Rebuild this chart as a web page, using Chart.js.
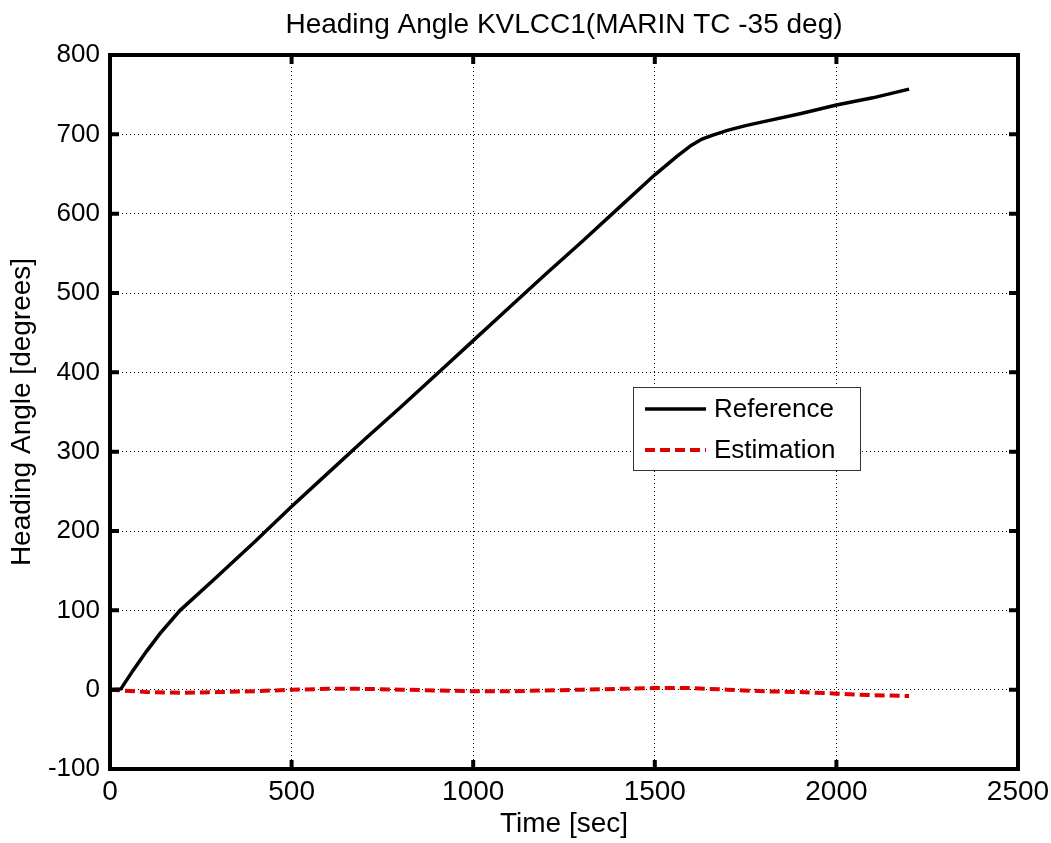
<!DOCTYPE html>
<html>
<head>
<meta charset="utf-8">
<script src="https://cdn.jsdelivr.net/npm/chart.js@4/dist/chart.umd.min.js"></script>
<style>
  body { margin: 0; background: #fff; }
  canvas { display: block; }
</style>
</head>
<body>
<canvas id="myChart" width="1051" height="843"></canvas>
<script>
// heading angle data
var refTime  = [0, 30, 63, 100, 138, 193, 284, 400, 500, 600, 700, 800, 900, 1000, 1100, 1200, 1300, 1400, 1500, 1560, 1600, 1630, 1660, 1700, 1750, 1800, 1900, 2000, 2100, 2200];
var refAngle = [0, 1, 24, 48, 71, 100, 138, 187, 231, 273, 315, 356, 398, 440, 482, 524, 565, 607, 649, 672, 686, 694, 699, 705, 711, 716, 726, 737, 746, 757];

var estTime  = [0, 100, 200, 300, 400, 500, 600, 700, 800, 900, 1000, 1100, 1200, 1300, 1400, 1500, 1600, 1700, 1800, 1900, 2000, 2100, 2200];
var estAngle = [0, -3, -4, -3, -2, 0, 1, 1, 0, -1, -2, -2, -1, 0, 1, 2, 2, 0, -2, -3, -5, -7, -8];

var xTicks = [0, 500, 1000, 1500, 2000, 2500];
var yTicks = [-100, 0, 100, 200, 300, 400, 500, 600, 700, 800];

var legendNames = ['Reference', 'Estimation'];
var chartTitle = 'Heading Angle KVLCC1(MARIN TC -35 deg)';

var FONT = "'Liberation Sans', Arial, sans-serif";

function toPoints(t, v) {
  var pts = [];
  for (var k = 0; k < t.length; k++) pts.push({ x: t[k], y: v[k] });
  return pts;
}

// frame, inward ticks, title and the boxed legend, matlab style
const matlabFrame = {
  id: 'matlabFrame',
  afterDatasetsDraw(chart) {
    const ctx = chart.ctx;
    const a = chart.chartArea;
    const xs = chart.scales.x, ys = chart.scales.y;
    ctx.save();

    ctx.fillStyle = '#000';
    ctx.font = '28px ' + FONT;
    ctx.textAlign = 'center';
    ctx.textBaseline = 'middle';
    ctx.fillText(chartTitle, (a.left + a.right) / 2, 25);

    ctx.strokeStyle = '#000';
    ctx.lineWidth = 4;
    ctx.strokeRect(a.left, a.top, a.right - a.left, a.bottom - a.top);

    xTicks.forEach(function (v) {
      var px = xs.getPixelForValue(v);
      ctx.beginPath();
      ctx.moveTo(px, a.bottom); ctx.lineTo(px, a.bottom - 9);
      ctx.moveTo(px, a.top); ctx.lineTo(px, a.top + 9);
      ctx.stroke();
    });
    yTicks.forEach(function (v) {
      var py = ys.getPixelForValue(v);
      ctx.beginPath();
      ctx.moveTo(a.left, py); ctx.lineTo(a.left + 9, py);
      ctx.moveTo(a.right, py); ctx.lineTo(a.right - 9, py);
      ctx.stroke();
    });

    // legend box
    var bx = 633, by = 387, bw = 227, bh = 83;
    ctx.fillStyle = '#fff';
    ctx.fillRect(bx, by, bw, bh);
    ctx.lineWidth = 1;
    ctx.strokeStyle = '#333';
    ctx.strokeRect(bx + 0.5, by + 0.5, bw, bh);

    var ds = chart.data.datasets;
    ctx.font = '26px ' + FONT;
    ctx.textBaseline = 'middle';
    ctx.textAlign = 'left';
    for (var k = 0; k < ds.length; k++) {
      var ly = by + 22 + k * 41;
      ctx.beginPath();
      ctx.strokeStyle = ds[k].borderColor;
      ctx.lineWidth = ds[k].borderWidth;
      ctx.setLineDash(ds[k].borderDash || []);
      ctx.moveTo(bx + 12, ly);
      ctx.lineTo(bx + 73, ly);
      ctx.stroke();
      ctx.setLineDash([]);
      ctx.fillStyle = '#000';
      ctx.fillText(legendNames[k], bx + 81, ly + 1);
    }
    ctx.restore();
  }
};

const data = {
  datasets: [{
    label: legendNames[0],
    data: toPoints(refTime, refAngle),
    borderColor: '#000000',
    borderWidth: 3.5,
    pointRadius: 0,
    tension: 0
  },
  {
    label: legendNames[1],
    data: toPoints(estTime, estAngle),
    borderColor: '#e00000',
    borderWidth: 4,
    borderDash: [10, 5],
    pointRadius: 0,
    tension: 0
  }]
};

const config = {
  type: 'line',
  data: data,
  options: {
    responsive: false,
    animation: false,
    layout: { padding: { left: 0, right: 33, top: 55, bottom: 0 } },
    scales: {
      x: {
        type: 'linear',
        min: 0,
        max: 2500,
        afterBuildTicks: function (s) { s.ticks = xTicks.map(function (v) { return { value: v }; }); },
        afterFit: function (s) { s.height = 74; s.paddingLeft = 0; s.paddingRight = 0; },
        grid: { color: '#000', lineWidth: 1, drawTicks: false },
        border: { display: false, dash: [1, 3] },
        ticks: { color: '#000', padding: 6, font: { family: FONT, size: 28 }, maxRotation: 0,
                 callback: function (v) { return String(v); } },
        title: { display: true, text: 'Time [sec]', color: '#000', font: { family: FONT, size: 28 }, padding: { top: 0, bottom: 2 } }
      },
      y: {
        min: -100,
        max: 800,
        afterBuildTicks: function (s) { s.ticks = yTicks.map(function (v) { return { value: v }; }); },
        afterFit: function (s) { s.width = 110; s.paddingTop = 0; s.paddingBottom = 0; },
        grid: { color: '#000', lineWidth: 1, drawTicks: false },
        border: { display: false, dash: [1, 3] },
        ticks: { color: '#000', padding: 10, font: { family: FONT, size: 26 },
                 callback: function (v) { return String(v); } },
        title: { display: true, text: 'Heading Angle [degrees]', color: '#000', font: { family: FONT, size: 28 }, padding: { top: 5, bottom: 0 } }
      }
    },
    plugins: {
      legend: { display: false },
      tooltip: { enabled: false },
      title: { display: false }
    }
  },
  plugins: [matlabFrame]
};

const myChart = new Chart(document.getElementById('myChart'), config);
</script>
</body>
</html>
